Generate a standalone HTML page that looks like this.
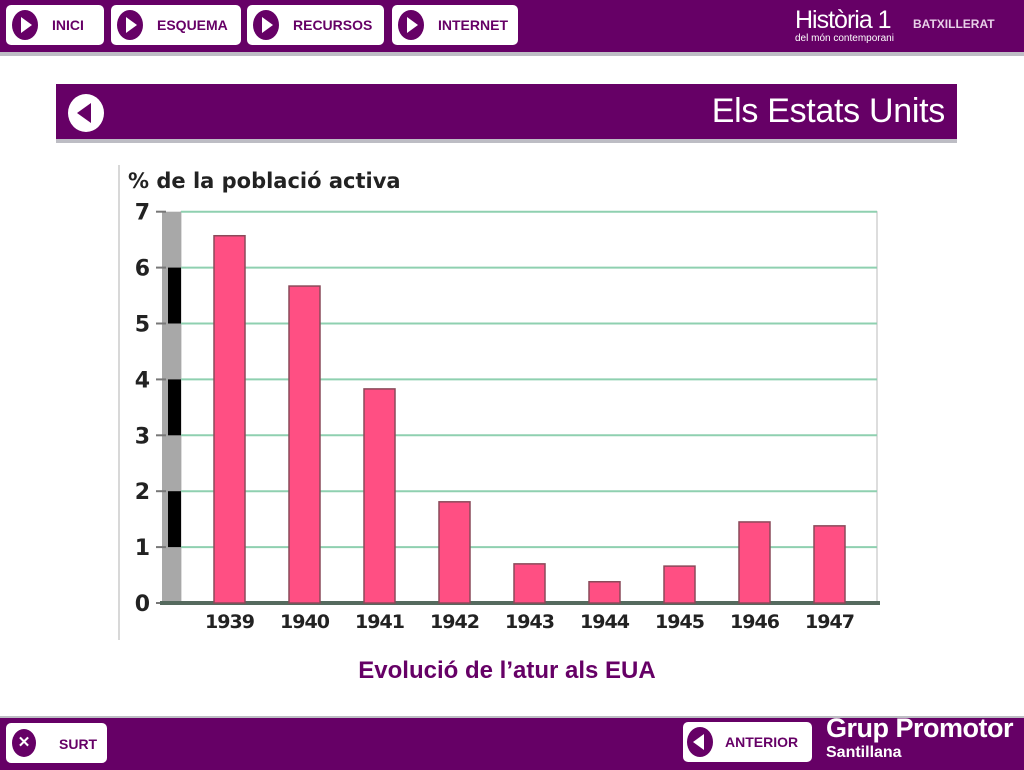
<!DOCTYPE html>
<html><head><meta charset="utf-8"><style>
body{margin:0;width:1024px;height:768px;background:#fff;position:relative;overflow:hidden;font-family:"Liberation Sans",sans-serif}
.abs{position:absolute}
.btn{position:absolute;background:#fff;border-radius:5px;height:40px;top:5px;font-weight:bold;font-size:14px;color:#660066;display:flex;align-items:center;box-sizing:border-box;padding-left:6px}
.ic{width:26px;height:30px;border-radius:50%;background:#660066;position:relative;margin-right:14px;flex:none}
.ic.pl:after{content:"";position:absolute;left:9px;top:7px;border-left:11px solid #fff;border-top:8px solid transparent;border-bottom:8px solid transparent}
</style></head><body>
<div class="abs" style="left:0;top:0;width:1024px;height:52px;background:#660066;border-bottom:4px solid #bdbdc4"></div>
<div class="btn" style="left:6px;width:98px"><span class="ic pl"></span>INICI</div>
<div class="btn" style="left:111px;width:130px"><span class="ic pl"></span>ESQUEMA</div>
<div class="btn" style="left:247px;width:137px"><span class="ic pl"></span>RECURSOS</div>
<div class="btn" style="left:392px;width:126px"><span class="ic pl"></span>INTERNET</div>
<div class="abs" style="left:795px;top:6px;color:#fff;font-size:25px;letter-spacing:-1px">Història 1</div>
<div class="abs" style="left:913px;top:17px;color:#e8d0e8;font-size:12px;font-weight:bold">BATXILLERAT</div>
<div class="abs" style="left:795px;top:33px;color:#fff;font-size:10px">del món contemporani</div>
<div class="abs" style="left:56px;top:84px;width:901px;height:55px;background:#660066;border-bottom:4px solid #bdbdc4"></div>
<div class="abs" style="left:68px;top:94px;width:36px;height:38px;border-radius:50%;background:#fff"><div style="position:absolute;left:9px;top:9px;border-right:14px solid #660066;border-top:10px solid transparent;border-bottom:10px solid transparent"></div></div>
<div class="abs" style="right:79px;top:92px;color:#fff;font-size:34px;letter-spacing:-0.3px">Els Estats Units</div>

<svg class="abs" style="left:0;top:0" width="1024" height="700">
<line x1="119" y1="165" x2="119" y2="640" stroke="#ccc" stroke-width="1.5"/>
<text x="128" y="188" font-size="21" font-weight="bold" fill="#222" font-family="DejaVu Sans, sans-serif">% de la població activa</text>
<g id="g"></g>
</svg>
<script>
const categories=["1939","1940","1941","1942","1943","1944","1945","1946","1947"];
const values=[6.57,5.67,3.83,1.81,0.70,0.38,0.66,1.45,1.38];
const yTicks=[0,1,2,3,4,5,6,7];
const y=v=>603-v*55.9;
const x=i=>229.5+i*75;
const NS="http://www.w3.org/2000/svg";
const g=document.getElementById('g');
function mk(t,a){const e=document.createElementNS(NS,t);for(const k in a)e.setAttribute(k,a[k]);g.appendChild(e);return e;}
let e=mk('rect',{x:181,y:y(7),width:696,height:y(0)-y(7),fill:'#fff',stroke:'#bbb'});


e=mk('rect',{x:162,y:y(7),width:19,height:y(0)-y(7),fill:'#a8a8a8'});


yTicks.forEach(t=>{
 if(t>0){e=mk('line',{x1:181,x2:877,y1:y(t),y2:y(t),stroke:'#8fd0b0','stroke-width':2});
 
 }
 e=mk('line',{x1:156,x2:166,y1:y(t),y2:y(t),stroke:'#777','stroke-width':2});
 
 
 e=mk('text',{x:150,y:y(t)+8,'text-anchor':'end','font-size':22,'font-weight':'bold',fill:'#222','font-family':'DejaVu Sans, sans-serif'});
 e.textContent=t;
 
 
 if(t%2==1&&t<7){e=mk('rect',{x:168,y:y(t+1),width:13,height:y(t)-y(t+1),fill:'#000'});
 
 }
});
e=mk('line',{x1:160,x2:880,y1:y(0),y2:y(0),stroke:'#556a5e','stroke-width':4});


categories.forEach((c,i)=>{
 e=mk('rect',{x:x(i)-15.5,y:y(values[i]),width:31,height:y(0)-y(values[i]),fill:'#ff4f83',stroke:'#8a4a5a','stroke-width':1.5});
 
 
 e=mk('text',{x:x(i),y:628,'text-anchor':'middle','font-size':19,'font-weight':'bold',fill:'#222','font-family':'DejaVu Sans, sans-serif','letter-spacing':'-1'});
 e.textContent=c;
 
 
});
</script>
<div class="abs" style="left:0;width:1014px;text-align:center;top:657px;color:#660066;font-size:24px;font-weight:bold">Evolució de l’atur als EUA</div>
<div class="abs" style="left:0;top:716px;width:1024px;height:52px;background:#660066;border-top:2px solid #bdbdc4"></div>
<div class="btn" style="left:6px;top:723px;width:101px;font-size:13px"><span class="ic" style="width:24px;height:28px;margin-right:20px;color:#fff;font-size:15px;font-weight:bold;text-align:center;line-height:28px">✕</span></div>
<div class="abs" style="left:59px;top:736px;color:#660066;font-weight:bold;font-size:14px">SURT</div>
<div class="btn" style="left:683px;top:722px;width:129px;font-size:14px;padding-left:4px"><span class="ic" style="margin-right:12px;background:#660066"><span style="position:absolute;left:6px;top:7px;border-right:11px solid #fff;border-top:8px solid transparent;border-bottom:8px solid transparent"></span></span>ANTERIOR</div>
<div class="abs" style="left:826px;top:713px;color:#fff;font-size:27px;font-weight:bold;letter-spacing:-0.5px">Grup Promotor</div>
<div class="abs" style="left:826px;top:744px;color:#fff;font-size:16px;font-weight:bold">Santillana</div>
</body></html>
